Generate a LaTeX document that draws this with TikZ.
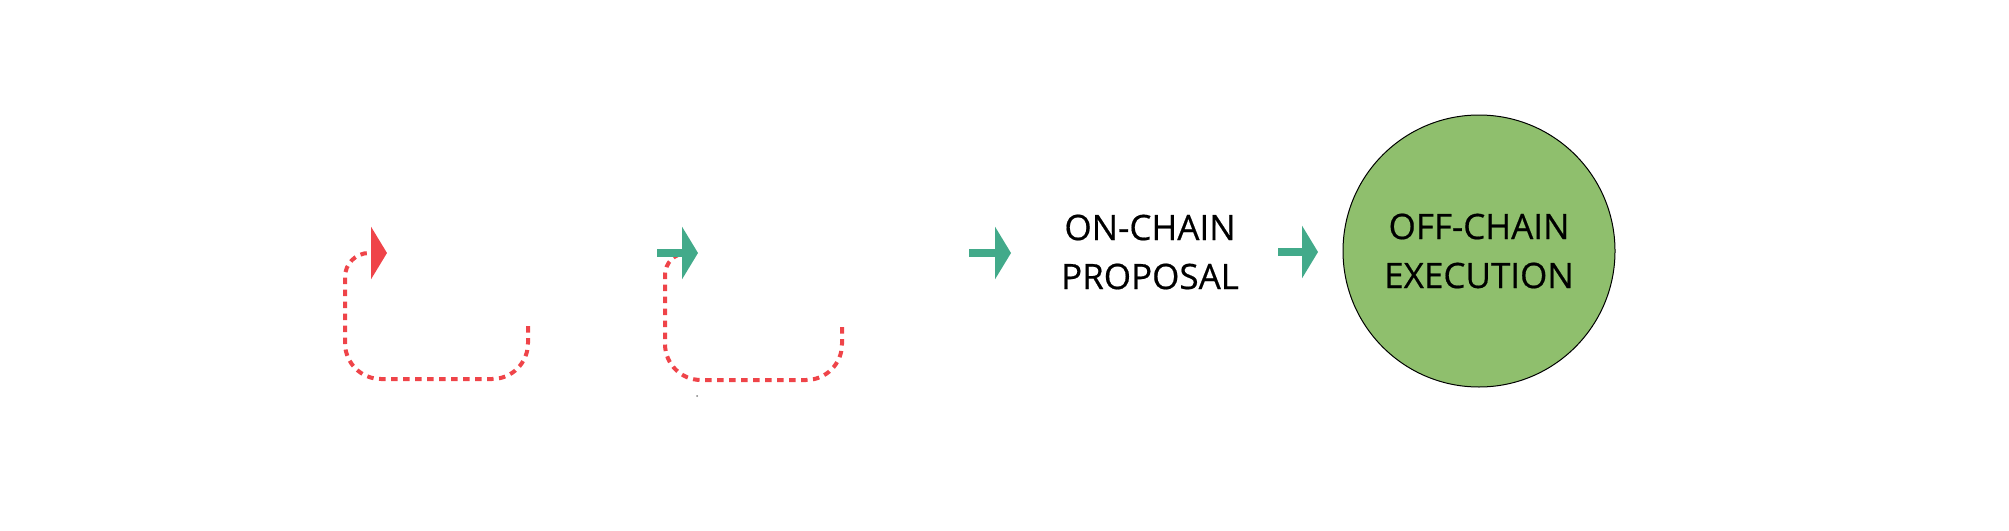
\documentclass[tikz,border=0pt]{standalone}
\usepackage{fontspec}
\setmainfont{Open Sans}
\newfontfamily\labelfont{Open Sans}[FakeBold=0.5]
\usepackage{xcolor}
\usetikzlibrary{arrows.meta}
\definecolor{loopred}{HTML}{EF4449}
\definecolor{flowgreen}{HTML}{42AA8A}
\definecolor{execgreen}{HTML}{8FBF6D}

\begin{document}
\begin{tikzpicture}[x=1pt, y=-1pt,
    dashloop/.style={draw=loopred, line width=4pt, dash pattern=on 6.5pt off 5.5pt, rounded corners=36pt},
    flowarrow/.style={draw=flowgreen, line width=8pt, -{Triangle[length=16pt,width=52pt]}},
    steplabel/.style={align=center, font=\labelfont\fontsize{35}{49}\selectfont}]
  \useasboundingbox (0,0) rectangle (2009,530);

  % Loop back (red)
  \coordinate (loopA-out) at (528,326);
  \coordinate (loopA-in) at (387,253);
  \draw[dashloop, -{Triangle[length=16pt,width=52pt]}]
    (loopA-out) |- (345,379) [rounded corners=24pt] -- (345,253) -- (loopA-in);

  % Loop back (green)
  \coordinate (loopB-out) at (842,327);
  \coordinate (loopB-in) at (688,253);
  \draw[dashloop]
    (loopB-out) |- (665,380) [rounded corners=22pt] -- (665,253) -- (loopB-in);
  \fill[gray] (697,396) circle (1);

  \coordinate (flowA-from) at (657,253);
  \coordinate (flowA-to) at (698,253);
  \draw[flowarrow] (flowA-from) -- (flowA-to);

  % Proposal
  \coordinate (flowB-from) at (969,253);
  \coordinate (flowB-to) at (1011,253);
  \draw[flowarrow] (flowB-from) -- (flowB-to);
  \node[steplabel] (onchain) at (1150,252) {ON-CHAIN\\PROPOSAL};

  % Execution
  \coordinate (flowC-from) at (1278,252);
  \coordinate (flowC-to) at (1318,252);
  \draw[flowarrow] (flowC-from) -- (flowC-to);
  \node[steplabel, circle, fill=execgreen, draw=black, line width=1pt, minimum size=272pt, inner sep=0pt] (offchain) at (1479,251) {OFF-CHAIN\\EXECUTION};
\end{tikzpicture}
\end{document}
